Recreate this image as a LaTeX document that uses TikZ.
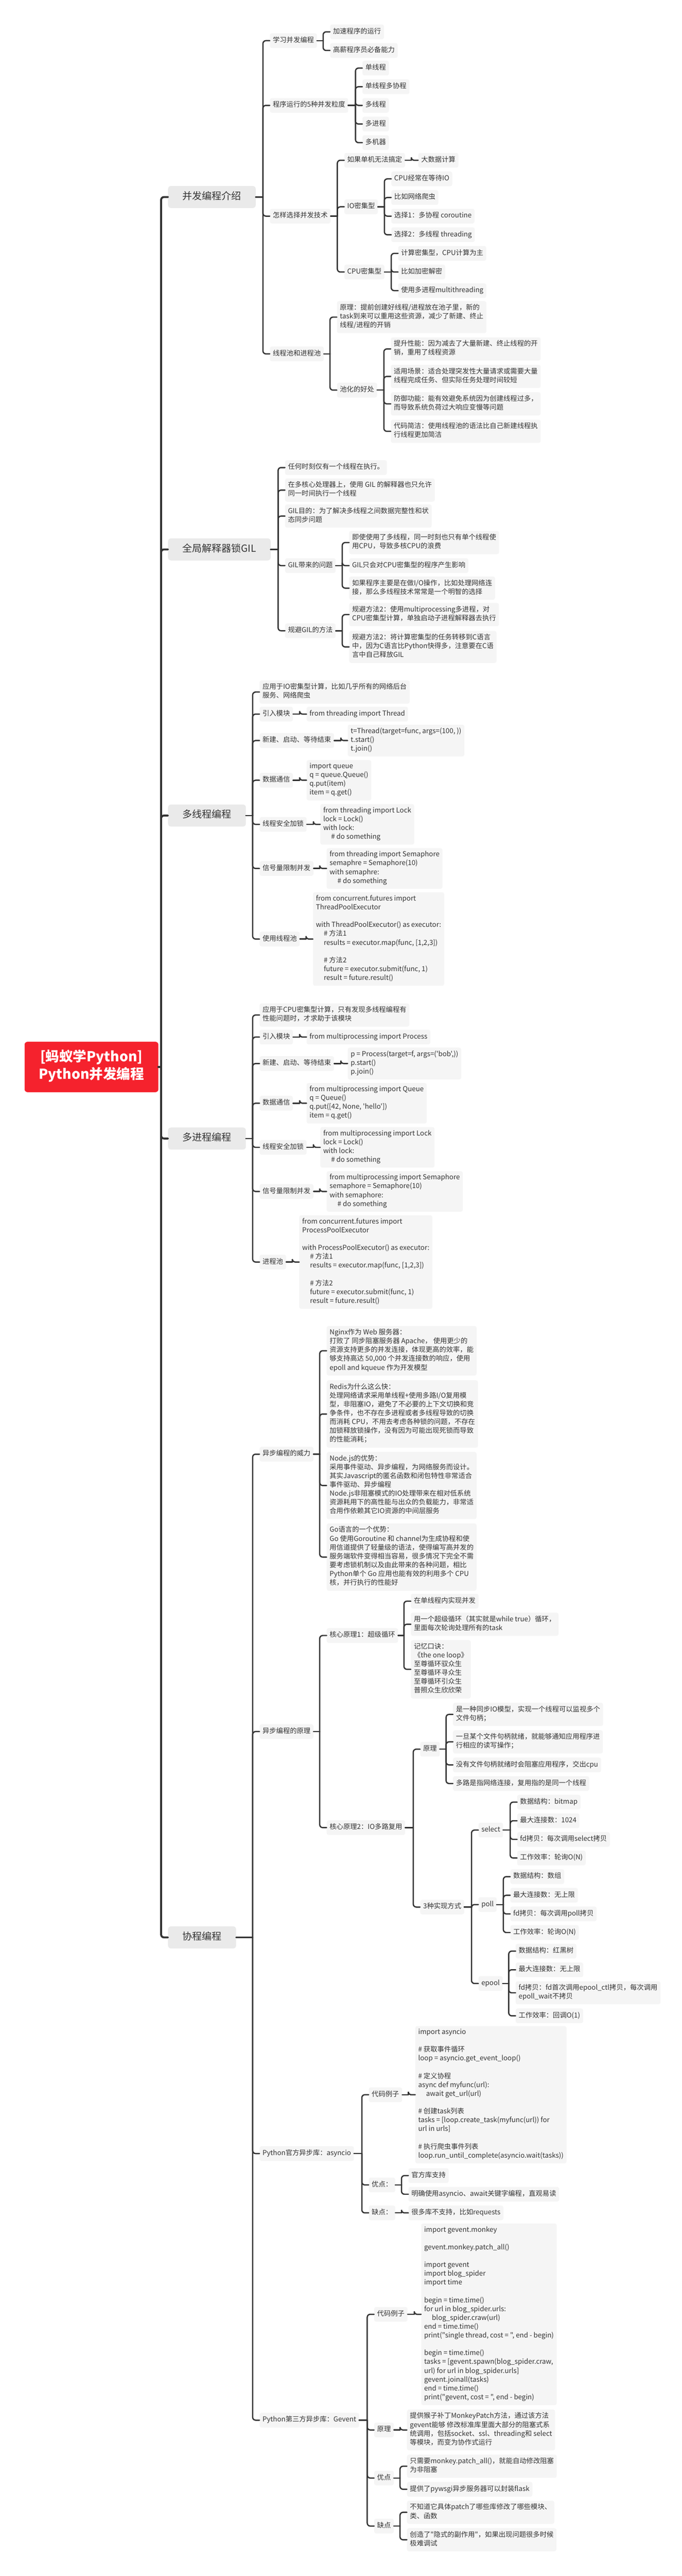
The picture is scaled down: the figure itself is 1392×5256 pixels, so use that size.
\documentclass[tikz,border=0pt]{standalone}
\usepackage{fontspec}
\newfontfamily\cjk{Noto Sans CJK SC}
\usepackage{tikz}
\definecolor{ink}{HTML}{333333}
\definecolor{boxgray}{HTML}{F5F5F5}
\definecolor{topicgray}{HTML}{EAEAEA}
\definecolor{rootred}{HTML}{F5222D}
\newcommand{\ind}{\hspace*{16pt}}
\newcommand{\branch}[3][link]{%
  \foreach \kid in {#3}{%
    \draw[#1] (#2.east) -- ([xshift=-14]\kid.west |- #2.east);
    \draw[#1, rounded corners=6] ([xshift=-14]\kid.west |- #2.east) |- (\kid.west);
  }}

\begin{document}
\begin{tikzpicture}[x=1pt, y=-1pt,
  leaf/.style={anchor=west, fill=boxgray, rounded corners=4, inner xsep=6, inner ysep=6,
    align=left, text=ink, font=\cjk\fontsize{14}{18}\selectfont,
    execute at begin node=\strut, execute at end node=\strut},
  topic/.style={leaf, fill=topicgray, rounded corners=6, inner xsep=29.5, inner ysep=9.5,
    font=\cjk\fontsize{20}{26}\selectfont},
  rootbox/.style={topic, fill=rootred, text=white, align=center, inner xsep=29, inner ysep=16.5,
    font=\cjk\bfseries\fontsize{28}{35}\selectfont},
  link/.style={draw=ink, line width=2.6, line cap=round},
  trunk/.style={link, line width=4}]
  \fill[white] (0,0) rectangle (1392,5256);
  \useasboundingbox (0,0) rectangle (1392,5256);

  \node[rootbox] (root) at (50,2177) {[蚂蚁学Python]\\Python并发编程};

  \node[topic] (intro) at (343,402) {并发编程介绍};
  \node[topic] (gil) at (343,1121) {全局解释器锁GIL};
  \node[topic] (thread) at (343,1664) {多线程编程};
  \node[topic] (proc) at (343,2323) {多进程编程};
  \node[topic] (coro) at (343,3953) {协程编程};

  \node[leaf] (i1) at (551,83) {学习并发编程};
  \node[leaf] (i11) at (674,65) {加速程序的运行};
  \node[leaf] (i12) at (674,103) {高薪程序员必备能力};
  \node[leaf] (i2) at (551,215) {程序运行的5种并发粒度};
  \node[leaf] (i21) at (740,139) {单线程};
  \node[leaf] (i22) at (740,177) {单线程多协程};
  \node[leaf] (i23) at (740,215) {多线程};
  \node[leaf] (i24) at (740,253) {多进程};
  \node[leaf] (i25) at (740,291) {多机器};
  \node[leaf] (i3) at (551,441) {怎样选择并发技术};
  \node[leaf] (i31) at (703,327) {如果单机无法搞定};
  \node[leaf] (i311) at (854,327) {大数据计算};
  \node[leaf] (i32) at (703,422) {IO密集型};
  \node[leaf] (i321) at (799,365) {CPU经常在等待IO};
  \node[leaf] (i322) at (799,403) {比如网络爬虫};
  \node[leaf] (i323) at (799,441) {选择1：多协程 coroutine};
  \node[leaf] (i324) at (799,479) {选择2：多线程 threading};
  \node[leaf] (i33) at (703,555) {CPU密集型};
  \node[leaf] (i331) at (813,517) {计算密集型，CPU计算为主};
  \node[leaf] (i332) at (813,555) {比如加密解密};
  \node[leaf] (i333) at (813,593) {使用多进程multithreading};
  \node[leaf] (i4) at (551,722) {线程池和进程池};
  \node[leaf] (i41) at (688,647) {原理：提前创建好线程/进程放在池子里，新的\\task到来可以重用这些资源，减少了新建、终止\\线程/进程的开销};
  \node[leaf] (i42) at (688,796) {池化的好处};
  \node[leaf] (i421) at (798,712) {提升性能：因为减去了大量新建、终止线程的开\\销，重用了线程资源};
  \node[leaf] (i422) at (798,768) {适用场景：适合处理突发性大量请求或需要大量\\线程完成任务、但实际任务处理时间较短};
  \node[leaf] (i423) at (798,824) {防御功能：能有效避免系统因为创建线程过多，\\而导致系统负荷过大响应变慢等问题};
  \node[leaf] (i424) at (798,880) {代码简洁：使用线程池的语法比自己新建线程执\\行线程更加简洁};

  \node[leaf] (g1) at (582,954) {任何时刻仅有一个线程在执行。};
  \node[leaf] (g2) at (582,1000) {在多核心处理器上，使用 GIL 的解释器也只允许\\同一时间执行一个线程};
  \node[leaf] (g3) at (582,1053) {GIL目的：为了解决多线程之间数据完整性和状\\态同步问题};
  \node[leaf] (g4) at (582,1154) {GIL带来的问题};
  \node[leaf] (g41) at (713,1107) {即使使用了多线程，同一时刻也只有单个线程使\\用CPU，导致多核CPU的浪费};
  \node[leaf] (g42) at (713,1154) {GIL只会对CPU密集型的程序产生影响};
  \node[leaf] (g43) at (713,1200) {如果程序主要是在做I/O操作，比如处理网络连\\接，那么多线程技术常常是一个明智的选择};
  \node[leaf] (g5) at (582,1287) {规避GIL的方法};
  \node[leaf] (g51) at (713,1254) {规避方法2：使用multiprocessing多进程，对\\CPU密集型计算，单独启动子进程解释器去执行};
  \node[leaf] (g52) at (713,1320) {规避方法2：将计算密集型的任务转移到C语言\\中，因为C语言比Python快得多，注意要在C语\\言中自己释放GIL};

  \node[leaf] (t1) at (530,1412) {应用于IO密集型计算，比如几乎所有的网络后台\\服务、网络爬虫};
  \node[leaf] (t2) at (530,1457) {引入模块};
  \node[leaf] (t2a) at (626,1457) {from threading import Thread};
  \node[leaf] (t3) at (530,1511) {新建、启动、等待结束};
  \node[leaf] (t3a) at (710,1511) {t=Thread(target=func, args=(100, ))\\t.start()\\t.join()};
  \node[leaf] (t4) at (530,1592) {数据通信};
  \node[leaf] (t4a) at (626,1592) {import queue\\q = queue.Queue()\\q.put(item)\\item = q.get()};
  \node[leaf] (t5) at (530,1682) {线程安全加锁};
  \node[leaf] (t5a) at (654,1682) {from threading import Lock\\lock = Lock()\\with lock:\\\ind\# do something};
  \node[leaf] (t6) at (530,1772) {信号量限制并发};
  \node[leaf] (t6a) at (667,1772) {from threading import Semaphore\\semaphre = Semaphore(10)\\with semaphre:\\\ind\# do something};
  \node[leaf] (t7) at (530,1916) {使用线程池};
  \node[leaf] (t7a) at (639,1916) {from concurrent.futures import\\ThreadPoolExecutor\\ \\with ThreadPoolExecutor() as executor:\\\ind\# 方法1\\\ind results = executor.map(func, [1,2,3])\\ \\\ind\# 方法2\\\ind future = executor.submit(func, 1)\\\ind result = future.result()};

  \node[leaf] (p1) at (530,2071) {应用于CPU密集型计算，只有发现多线程编程有\\性能问题时，才求助于该模块};
  \node[leaf] (p2) at (530,2116) {引入模块};
  \node[leaf] (p2a) at (626,2116) {from multiprocessing import Process};
  \node[leaf] (p3) at (530,2170) {新建、启动、等待结束};
  \node[leaf] (p3a) at (710,2170) {p = Process(target=f, args=('bob',))\\p.start()\\p.join()};
  \node[leaf] (p4) at (530,2251) {数据通信};
  \node[leaf] (p4a) at (626,2251) {from multiprocessing import Queue\\q = Queue()\\q.put([42, None, 'hello'])\\item = q.get()};
  \node[leaf] (p5) at (530,2341) {线程安全加锁};
  \node[leaf] (p5a) at (654,2341) {from multiprocessing import Lock\\lock = Lock()\\with lock:\\\ind\# do something};
  \node[leaf] (p6) at (530,2431) {信号量限制并发};
  \node[leaf] (p6a) at (667,2431) {from multiprocessing import Semaphore\\semaphore = Semaphore(10)\\with semaphore:\\\ind\# do something};
  \node[leaf] (p7) at (530,2575) {进程池};
  \node[leaf] (p7a) at (611,2575) {from concurrent.futures import\\ProcessPoolExecutor\\ \\with ProcessPoolExecutor() as executor:\\\ind\# 方法1\\\ind results = executor.map(func, [1,2,3])\\ \\\ind\# 方法2\\\ind future = executor.submit(func, 1)\\\ind result = future.result()};

  \node[leaf] (c1) at (530,2967) {异步编程的威力};
  \node[leaf] (c11) at (667,2756) {Nginx作为 Web 服务器：\\打败了 同步阻塞服务器 Apache， 使用更少的\\资源支持更多的并发连接，体现更高的效率，能\\够支持高达 50,000 个并发连接数的响应，使用\\epoll and kqueue 作为开发模型};
  \node[leaf] (c12) at (667,2885) {Redis为什么这么快：\\处理网络请求采用单线程+使用多路I/O复用模\\型，非阻塞IO，避免了不必要的上下文切换和竞\\争条件，也不存在多进程或者多线程导致的切换\\而消耗 CPU，不用去考虑各种锁的问题，不存在\\加锁释放锁操作，没有因为可能出现死锁而导致\\的性能消耗；};
  \node[leaf] (c13) at (667,3031) {Node.js的优势：\\采用事件驱动、异步编程，为网络服务而设计。\\其实Javascript的匿名函数和闭包特性非常适合\\事件驱动、异步编程\\Node.js非阻塞模式的IO处理带来在相对低系统\\资源耗用下的高性能与出众的负载能力，非常适\\合用作依赖其它IO资源的中间层服务};
  \node[leaf] (c14) at (667,3177) {Go语言的一个优势：\\Go 使用Goroutine 和 channel为生成协程和使\\用信道提供了轻量级的语法，使得编写高并发的\\服务端软件变得相当容易，很多情况下完全不需\\要考虑锁机制以及由此带来的各种问题，相比\\Python单个 Go 应用也能有效的利用多个 CPU\\核，并行执行的性能好};
  \node[leaf] (c2) at (530,3533) {异步编程的原理};
  \node[leaf] (c21) at (667,3337) {核心原理1：超级循环};
  \node[leaf] (c211) at (839,3267) {在单线程内实现并发};
  \node[leaf] (c212) at (839,3314) {用一个超级循环（其实就是while true）循环，\\里面每次轮询处理所有的task};
  \node[leaf] (c213) at (839,3406) {记忆口诀：\\《the one loop》\\至尊循环驭众生\\至尊循环寻众生\\至尊循环引众生\\普照众生欣欣荣};
  \node[leaf] (c22) at (667,3729) {核心原理2：IO多路复用};
  \node[leaf] (c221) at (858,3569) {原理};
  \node[leaf] (c2211) at (925,3498) {是一种同步IO模型，实现一个线程可以监视多个\\文件句柄；};
  \node[leaf] (c2212) at (925,3554) {一旦某个文件句柄就绪，就能够通知应用程序进\\行相应的读写操作；};
  \node[leaf] (c2213) at (925,3601) {没有文件句柄就绪时会阻塞应用程序，交出cpu};
  \node[leaf] (c2214) at (925,3639) {多路是指网络连接，复用指的是同一个线程};
  \node[leaf] (c222) at (858,3891) {3种实现方式};
  \node[leaf] (sel) at (977,3734) {select};
  \node[leaf] (sel1) at (1056,3677) {数据结构：bitmap};
  \node[leaf] (sel2) at (1056,3715) {最大连接数：1024};
  \node[leaf] (sel3) at (1056,3753) {fd拷贝：每次调用select拷贝};
  \node[leaf] (sel4) at (1056,3791) {工作效率：轮询O(N)};
  \node[leaf] (pol) at (977,3886) {poll};
  \node[leaf] (pol1) at (1042,3829) {数据结构：数组};
  \node[leaf] (pol2) at (1042,3867) {最大连接数：无上限};
  \node[leaf] (pol3) at (1042,3905) {fd拷贝：每次调用poll拷贝};
  \node[leaf] (pol4) at (1042,3943) {工作效率：轮询O(N)};
  \node[leaf] (epo) at (977,4047) {epool};
  \node[leaf] (epo1) at (1053,3981) {数据结构：红黑树};
  \node[leaf] (epo2) at (1053,4019) {最大连接数：无上限};
  \node[leaf] (epo3) at (1053,4066) {fd拷贝：fd首次调用epool\_ctl拷贝，每次调用\\epoll\_wait不拷贝};
  \node[leaf] (epo4) at (1053,4113) {工作效率：回调O(1)};
  \node[leaf] (c3) at (530,4394) {Python官方异步库：asyncio};
  \node[leaf] (c31) at (753,4274) {代码例子};
  \node[leaf] (c31a) at (848,4274) {import asyncio\\ \\\# 获取事件循环\\loop = asyncio.get\_event\_loop()\\ \\\# 定义协程\\async def myfunc(url):\\\ind await get\_url(url)\\ \\\# 创建task列表\\tasks = [loop.create\_task(myfunc(url)) for\\url in urls]\\ \\\# 执行爬虫事件列表\\loop.run\_until\_complete(asyncio.wait(tasks))};
  \node[leaf] (c32) at (753,4458) {优点：};
  \node[leaf] (c321) at (834,4439) {官方库支持};
  \node[leaf] (c322) at (834,4477) {明确使用asyncio、await关键字编程，直观易读};
  \node[leaf] (c33) at (753,4515) {缺点：};
  \node[leaf] (c331) at (834,4515) {很多库不支持，比如requests};
  \node[leaf] (c4) at (530,4938) {Python第三方异步库：Gevent};
  \node[leaf] (c41) at (764,4722) {代码例子};
  \node[leaf] (c41a) at (860,4722) {import gevent.monkey\\ \\gevent.monkey.patch\_all()\\ \\import gevent\\import blog\_spider\\import time\\ \\begin = time.time()\\for url in blog\_spider.urls:\\\ind blog\_spider.craw(url)\\end = time.time()\\print("single thread, cost = ", end - begin)\\ \\begin = time.time()\\tasks = [gevent.spawn(blog\_spider.craw,\\url) for url in blog\_spider.urls]\\gevent.joinall(tasks)\\end = time.time()\\print("gevent, cost = ", end - begin)};
  \node[leaf] (c42) at (764,4958) {原理};
  \node[leaf] (c42a) at (831,4958) {提供猴子补丁MonkeyPatch方法，通过该方法\\gevent能够 修改标准库里面大部分的阻塞式系\\统调用，包括socket、ssl、threading和 select\\等模块，而变为协作式运行};
  \node[leaf] (c43) at (764,5056) {优点};
  \node[leaf] (c431) at (831,5032) {只需要monkey.patch\_all()，就能自动修改阻塞\\为非阻塞};
  \node[leaf] (c432) at (831,5079) {提供了pywsgi异步服务器可以封装flask};
  \node[leaf] (c44) at (764,5154) {缺点};
  \node[leaf] (c441) at (831,5126) {不知道它具体patch了哪些库修改了哪些模块、\\类、函数};
  \node[leaf] (c442) at (831,5182) {创造了"隐式的副作用"，如果出现问题很多时候\\极难调试};

  \branch[trunk]{root}{intro,gil,thread,proc,coro}
  \branch{intro}{i1,i2,i3,i4}
  \branch{i1}{i11,i12}
  \branch{i2}{i21,i22,i23,i24,i25}
  \branch{i3}{i31,i32,i33}
  \branch{i31}{i311}
  \branch{i32}{i321,i322,i323,i324}
  \branch{i33}{i331,i332,i333}
  \branch{i4}{i41,i42}
  \branch{i42}{i421,i422,i423,i424}
  \branch{gil}{g1,g2,g3,g4,g5}
  \branch{g4}{g41,g42,g43}
  \branch{g5}{g51,g52}
  \branch{thread}{t1,t2,t3,t4,t5,t6,t7}
  \branch{proc}{p1,p2,p3,p4,p5,p6,p7}
  \foreach \nd in {t2,t3,t4,t5,t6,t7,p2,p3,p4,p5,p6,p7}
  {
    \branch{\nd}{\nd a}
  }
  \branch{coro}{c1,c2,c3,c4}
  \branch{c1}{c11,c12,c13,c14}
  \branch{c2}{c21,c22}
  \branch{c21}{c211,c212,c213}
  \branch{c22}{c221,c222}
  \branch{c221}{c2211,c2212,c2213,c2214}
  \branch{c222}{sel,pol,epo}
  \branch{sel}{sel1,sel2,sel3,sel4}
  \branch{pol}{pol1,pol2,pol3,pol4}
  \branch{epo}{epo1,epo2,epo3,epo4}
  \branch{c3}{c31,c32,c33}
  \branch{c31}{c31a}
  \branch{c32}{c321,c322}
  \branch{c33}{c331}
  \branch{c4}{c41,c42,c43,c44}
  \branch{c41}{c41a}
  \branch{c42}{c42a}
  \branch{c43}{c431,c432}
  \branch{c44}{c441,c442}
\end{tikzpicture}
\end{document}
